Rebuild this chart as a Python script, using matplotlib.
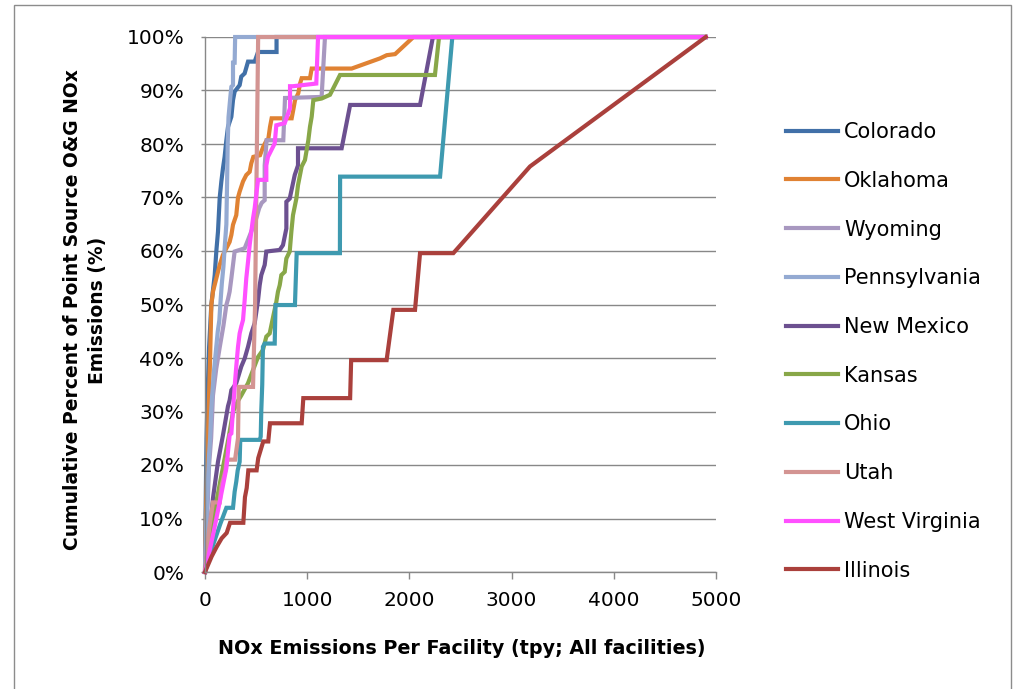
import matplotlib
matplotlib.use("Agg")
import matplotlib.pyplot as plt
from matplotlib.patches import Rectangle

# ---------------- data ----------------
states = ["Colorado", "Oklahoma", "Wyoming", "Pennsylvania", "New Mexico",
          "Kansas", "Ohio", "Utah", "West Virginia", "Illinois"]

colorado_x = [0, 5, 10, 15, 25, 40, 62, 80, 95, 111, 127, 144, 160, 176, 192, 209, 225, 258, 274, 290, 339, 355, 388, 421, 486, 519, 700, 700, 4900]
colorado_y = [0, 10, 18, 25, 33, 42, 50, 53, 55.5, 60, 63.6, 70, 73, 75.5, 77.6, 80.7, 83.2, 85.1, 88.2, 89.8, 91, 92.6, 93.2, 95.4, 95.4, 97.2, 97.2, 100, 100]

oklahoma_x = [0, 8, 20, 35, 50, 62, 78, 111, 144, 176, 209, 241, 258, 274, 306, 323, 339, 372, 404, 437,
              453, 473, 538, 570, 603, 620, 636, 652, 848, 864, 881, 913, 930, 946, 1027, 1044, 1435, 1712, 1778, 1860, 2040, 4900]
oklahoma_y = [0, 10, 20, 30, 40, 49.9, 52.4, 54.9, 57.4, 59.3, 60.5, 61.7, 63, 64.9, 66.7, 70, 71.1, 73, 74.2, 74.8,
              76.4, 77.6, 77.9, 79.5, 80.7, 81, 83.2, 84.8, 84.8, 86.4, 88.2, 89.5, 91.3, 92.3, 92.3, 94.1, 94.1, 96, 96.6, 96.8, 100, 100]

wyoming_x = [0, 10, 25, 40, 60, 78, 110, 144, 180, 209, 225, 241, 258, 274, 290, 388, 440, 500, 530, 555,
             584, 584, 603, 766, 783, 1141, 1174, 4900]
wyoming_y = [0, 5, 12, 20, 25, 33, 38, 42, 46, 49.9, 51, 52.4, 54.9, 57.4, 59.9, 60.5, 63, 66, 68, 69,
             69.5, 76, 80.7, 80.7, 88.6, 88.8, 100, 100]

pennsylvania_x = [0, 10, 25, 40, 50, 60, 70, 90, 110, 125, 140, 150, 165, 180, 192, 209, 218, 222, 230, 248, 258, 274, 274, 290, 295, 4900]
pennsylvania_y = [0, 8, 15, 22, 25, 30, 33, 38, 42, 45, 47, 50, 54, 57, 60.5, 65, 75, 80, 85, 88.8, 90.7, 91, 95.2, 95.2, 100, 100]

new_mexico_x = [0, 20, 46, 78, 127, 176, 225, 241, 258, 306, 355, 388, 421, 453, 486, 519, 535, 551, 584, 600,
                731, 763, 796, 796, 829, 878, 910, 910, 1337, 1420, 2104, 2230, 4900]
new_mexico_y = [0, 3, 6.9, 13.8, 20.6, 25.6, 31, 32.1, 34, 35.3, 38.4, 39.9, 42.1, 44.6, 46.5, 50.8, 53.6, 55.5, 57.4, 59.9,
                60.2, 61.1, 64.2, 69.2, 69.8, 74.2, 76, 79.2, 79.2, 87.3, 87.3, 100, 100]

kansas_x = [0, 40, 80, 130, 180, 230, 275, 323, 355, 421, 519, 567, 600, 633, 670, 698, 714, 731, 747, 780,
            796, 829, 845, 861, 894, 910, 946, 978, 1011, 1027, 1044, 1060, 1141, 1223, 1321, 2250, 2290, 4900]
kansas_y = [0, 5, 10, 15, 20, 25, 30, 32, 33, 35.3, 40.2, 41.5, 44, 44.6, 48, 50.5, 52.4, 53.6, 55.5, 56.1,
            58.6, 59.9, 63.6, 66.7, 69.8, 72.3, 75.8, 77, 80.7, 83.2, 85.1, 88.2, 88.5, 89.2, 92.9, 92.9, 100, 100]

ohio_x = [0, 78, 150, 209, 274, 290, 306, 320, 339, 345, 535, 545, 551, 560, 567, 584, 682, 690, 880, 897,
          1320, 1322, 2300, 2420, 4900]
ohio_y = [0, 5, 9, 12, 12, 15, 16.9, 19, 20.6, 24.7, 24.7, 25.3, 30.3, 35, 42.1, 42.7, 42.7, 49.9, 49.9, 59.6,
          59.6, 73.9, 73.9, 100, 100]

utah_x = [0, 20, 40, 78, 144, 160, 200, 212, 294, 323, 330, 470, 490, 505, 520, 4900]
utah_y = [0, 4, 8, 13, 13, 16, 19, 21, 21, 25, 34.6, 34.6, 50, 75, 100, 100]

west_virginia_x = [0, 78, 144, 209, 241, 258, 274, 290, 306, 323, 339, 355, 372, 388, 404, 421, 437, 453, 470, 486,
                   519, 600, 600, 616, 682, 698, 780, 832, 832, 861, 1089, 1106, 4900]
west_virginia_y = [0, 6.9, 13.1, 19.4, 25.6, 25.9, 30.3, 34.6, 38.4, 42.1, 44.6, 45.9, 47.1, 50.8, 54.9, 58, 61.1, 63.6, 66.1, 68,
                   73.3, 73.3, 76, 77.6, 80.1, 83.5, 83.9, 86.7, 90.8, 90.8, 91.3, 100, 100]

illinois_x = [0, 65, 114, 163, 212, 245, 375, 391, 408, 424, 505, 521, 570, 619, 636, 946, 962, 1420, 1430, 1777,
              1843, 2055, 2104, 2430, 3180, 4900]
illinois_y = [0, 2.9, 4.7, 6.3, 7.3, 9.2, 9.2, 14, 15.7, 19, 19, 21.3, 24.4, 24.4, 27.8, 27.8, 32.5, 32.5, 39.6, 39.6,
              49, 49, 59.6, 59.6, 75.8, 100]

x_ticks = [0, 1000, 2000, 3000, 4000, 5000]
y_ticks = [0, 10, 20, 30, 40, 50, 60, 70, 80, 90, 100]

colors = ["#4170A8", "#E08233", "#A898C0", "#94AAD2", "#6C5090",
          "#88A748", "#3E9AB0", "#D39492", "#FF50FF", "#AA403C"]

series = [
    (colorado_x, colorado_y), (oklahoma_x, oklahoma_y), (wyoming_x, wyoming_y),
    (pennsylvania_x, pennsylvania_y), (new_mexico_x, new_mexico_y), (kansas_x, kansas_y),
    (ohio_x, ohio_y), (utah_x, utah_y), (west_virginia_x, west_virginia_y), (illinois_x, illinois_y),
]

# ---------------- figure ----------------
plt.rcParams['font.family'] = ['DejaVu Sans']
W, H = 1015, 689
fig = plt.figure(figsize=(W / 100, H / 100), dpi=100)
ax = fig.add_axes([205 / W, 1 - 572 / H, (716 - 205) / W, (572 - 37) / H])

for (xs, ys), name, c in zip(series, states, colors):
    ax.plot(xs, ys, color=c, lw=3.0, label=name, clip_on=False, solid_joinstyle='miter')

ax.set_xlim(0, 5000)
ax.set_ylim(0, 100)
ax.set_xticks(x_ticks)
ax.set_xticklabels([str(v) for v in x_ticks])
ax.set_yticks(y_ticks)
ax.set_yticklabels([f"{v}%" for v in y_ticks])

gray = "#888888"
ax.yaxis.grid(True, color=gray, lw=1.0)
ax.set_axisbelow(True)
for s in ["top", "right"]:
    ax.spines[s].set_visible(False)
for s in ["left", "bottom"]:
    ax.spines[s].set_color(gray)
    ax.spines[s].set_linewidth(1.0)

ax.tick_params(axis='x', direction='out', length=5, width=1, color=gray, labelsize=14.5, pad=9)
ax.tick_params(axis='y', direction='out', length=3, width=1, color=gray, labelsize=14.5, pad=12)

fig.text(85 / W, 1 - 310 / H, "Cumulative Percent of Point Source O&G NOx\nEmissions (%)",
         rotation=90, ha='center', va='center', fontsize=13.5, fontweight='bold', linespacing=1.4)
fig.text(462 / W, 1 - 648 / H, "NOx Emissions Per Facility (tpy; All facilities)",
         ha='center', va='center', fontsize=13.8, fontweight='bold')

leg = fig.legend(loc='upper left', bbox_to_anchor=(786 / W, 1 - 122 / H), frameon=False,
                 fontsize=15, handlelength=2.5, handletextpad=0.3, labelspacing=1.38, borderpad=0,
                 borderaxespad=0)

fig.patches.append(Rectangle((14 / W, -0.02), (1011 - 14) / W, (689 - 5) / H + 0.02,
                             transform=fig.transFigure, fill=False, edgecolor="#8c8c8c", lw=1.0))

fig.savefig("out.png", dpi=100)
